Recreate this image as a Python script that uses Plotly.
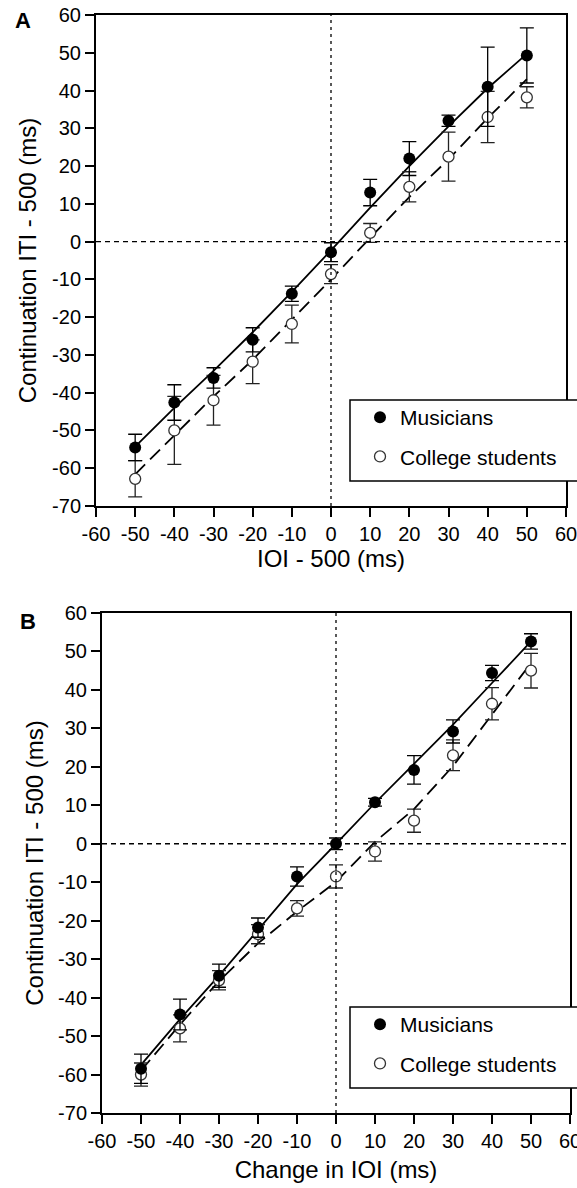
import plotly.graph_objects as go

# ---------------- data ----------------
ioi_levels = [-50, -40, -30, -20, -10, 0, 10, 20, 30, 40, 50]

# Panel A
musicians_A = [-54.5, -42.6, -36.1, -26.0, -13.8, -2.8, 13.0, 22.0, 32.0, 41.0, 49.3]
musicians_A_err = [3.5, 4.7, 2.7, 3.2, 2.0, 2.5, 3.5, 4.5, 1.5, 10.5, 7.3]
students_A = [-62.8, -50.0, -42.0, -31.8, -21.8, -8.6, 2.3, 14.5, 22.5, 33.0, 38.2]
students_A_err = [4.8, 9.0, 6.6, 5.8, 5.0, 2.5, 2.5, 4.0, 6.5, 6.8, 2.8]
musicians_A_fit = [-54.3, -44.0, -34.2, -24.0, -13.3, -2.3, 9.0, 20.0, 30.5, 40.6, 49.7]
students_A_fit = [-61.6, -51.2, -41.0, -31.3, -20.6, -10.0, 1.0, 11.8, 21.8, 32.7, 43.0]

# Panel B
musicians_B = [-58.5, -44.4, -34.3, -21.8, -8.5, 0.0, 10.8, 19.2, 29.2, 44.4, 52.6]
musicians_B_err = [3.8, 4.0, 3.0, 2.5, 2.5, 1.5, 1.0, 3.7, 3.0, 2.0, 2.0]
students_B = [-60.0, -48.0, -35.5, -23.5, -16.8, -8.5, -2.0, 6.0, 23.0, 36.4, 45.0]
students_B_err = [3.0, 3.5, 2.5, 2.5, 2.0, 3.0, 2.5, 3.0, 4.0, 4.2, 4.5]
musicians_B_fit = [-57.5, -45.6, -34.3, -22.5, -10.5, 0.0, 10.6, 20.8, 31.0, 41.8, 52.6]
students_B_fit = [-59.0, -47.0, -35.7, -25.9, -17.6, -9.9, 0.5, 9.0, 20.2, 33.6, 47.0]

x_ticks = [-60, -50, -40, -30, -20, -10, 0, 10, 20, 30, 40, 50, 60]
x_tick_labels = ["-60", "-50", "-40", "-30", "-20", "-10", "0", "10", "20", "30", "40", "50", "60"]
y_ticks = [-70, -60, -50, -40, -30, -20, -10, 0, 10, 20, 30, 40, 50, 60]
y_tick_labels = ["-70", "-60", "-50", "-40", "-30", "-20", "-10", "0", "10", "20", "30", "40", "50", "60"]
series_names = ["Musicians", "College students"]
panel_labels = ["A", "B"]
x_titles = ["IOI - 500 (ms)", "Change in IOI (ms)"]
y_title = "Continuation ITI - 500 (ms)"

# ---------------- layout geometry ----------------
W, H = 577, 1188
FONT = "Liberation Sans, Arial, Helvetica, sans-serif"


def px_x(p):
    return p / W


def px_y(p):
    return (H - p) / H


fig = go.Figure()

panels = [
    dict(mus=musicians_A, mus_err=musicians_A_err, stu=students_A, stu_err=students_A_err,
         mus_fit=musicians_A_fit, stu_fit=students_A_fit, xa="x", ya="y", legend="legend"),
    dict(mus=musicians_B, mus_err=musicians_B_err, stu=students_B, stu_err=students_B_err,
         mus_fit=musicians_B_fit, stu_fit=students_B_fit, xa="x2", ya="y2", legend="legend2"),
]

for i, p in enumerate(panels):
    fig.add_trace(go.Scatter(x=ioi_levels, y=p["mus_fit"], mode="lines", xaxis=p["xa"], yaxis=p["ya"],
                             line=dict(color="black", width=1.8), showlegend=False, hoverinfo="skip"))
    fig.add_trace(go.Scatter(x=ioi_levels, y=p["stu_fit"], mode="lines", xaxis=p["xa"], yaxis=p["ya"],
                             line=dict(color="black", width=1.8, dash="14px,7px"), showlegend=False,
                             hoverinfo="skip"))
    fig.add_trace(go.Scatter(
        x=ioi_levels, y=p["stu"], mode="markers", name=series_names[1], xaxis=p["xa"], yaxis=p["ya"],
        marker=dict(symbol="circle", size=11, color="white", line=dict(color="#333", width=1.3)),
        error_y=dict(type="data", array=p["stu_err"], visible=True, color="#222", thickness=1.3, width=7),
        legend=p["legend"], legendgroup=f"s{i}", legendrank=2))
    fig.add_trace(go.Scatter(
        x=ioi_levels, y=p["mus"], mode="markers", name=series_names[0], xaxis=p["xa"], yaxis=p["ya"],
        marker=dict(symbol="circle", size=12, color="black", line=dict(color="black", width=0)),
        error_y=dict(type="data", array=p["mus_err"], visible=True, color="black", thickness=1.3, width=7),
        legend=p["legend"], legendgroup=f"m{i}", legendrank=1))

axis_common = dict(
    showgrid=False, zeroline=False, showline=True, linecolor="black", linewidth=2, mirror=True,
    ticks="outside", ticklen=9, tickwidth=1.8, tickcolor="black", automargin=False,
    ticklabeloverflow="allow",
    tickfont=dict(family=FONT, size=20, color="black"),
)

boxA = (96, 566, 15, 506)
boxB = (102, 570, 613, 1113)

legend_common = dict(xanchor="left", yanchor="top", bgcolor="rgba(0,0,0,0)", borderwidth=0,
                     font=dict(family=FONT, size=21, color="black"), tracegroupgap=9,
                     itemclick=False, itemdoubleclick=False)

fig.update_layout(
    width=W, height=H, margin=dict(l=0, r=0, t=0, b=0, autoexpand=False),
    paper_bgcolor="white", plot_bgcolor="white",
    font=dict(family=FONT, color="black"),
    xaxis=dict(domain=[px_x(boxA[0]), px_x(boxA[1])], range=[-60, 60], tickvals=x_ticks,
               ticktext=x_tick_labels, anchor="y",
               title=dict(text=x_titles[0], font=dict(size=24), standoff=6), **axis_common),
    yaxis=dict(domain=[px_y(boxA[3]), px_y(boxA[2])], range=[-70, 60], tickvals=y_ticks,
               ticktext=y_tick_labels, anchor="x",
               title=dict(text=y_title, font=dict(size=24), standoff=9), **axis_common),
    xaxis2=dict(domain=[px_x(boxB[0]), px_x(boxB[1])], range=[-60, 60], tickvals=x_ticks,
                ticktext=x_tick_labels, anchor="y2",
                title=dict(text=x_titles[1], font=dict(size=24), standoff=10), **axis_common),
    yaxis2=dict(domain=[px_y(boxB[3]), px_y(boxB[2])], range=[-70, 60], tickvals=y_ticks,
                ticktext=y_tick_labels, anchor="x2",
                title=dict(text=y_title, font=dict(size=24), standoff=8), **axis_common),
    legend=dict(x=px_x(360), y=px_y(397), **legend_common),
    legend2=dict(x=px_x(360), y=px_y(1004), **legend_common),
    showlegend=True,
)

for xa, ya in (("x", "y"), ("x2", "y2")):
    fig.add_shape(type="line", xref=xa, yref=ya, x0=0, x1=0, y0=-70, y1=60,
                  line=dict(color="black", width=1.3, dash="3px,4px"))
    fig.add_shape(type="line", xref=xa, yref=ya, x0=-60, x1=60, y0=0, y1=0,
                  line=dict(color="black", width=1.3, dash="5px,4px"))

for top, bot in ((400, 481), (1007, 1088)):
    fig.add_shape(type="rect", xref="paper", yref="paper", x0=px_x(350), x1=px_x(640),
                  y0=px_y(bot), y1=px_y(top), line=dict(color="black", width=1.5),
                  fillcolor="white", layer="above")

for lab, (xp, yp) in zip(panel_labels, ((23, 20), (28, 621))):
    fig.add_annotation(text=f"<b>{lab}</b>", x=px_x(xp), y=px_y(yp), xref="paper", yref="paper",
                       showarrow=False, xanchor="center", yanchor="middle",
                       font=dict(family=FONT, size=22, color="black"))

fig.write_html("out.html", config={"displayModeBar": False},
               post_script="document.body.style.margin='0px';")
